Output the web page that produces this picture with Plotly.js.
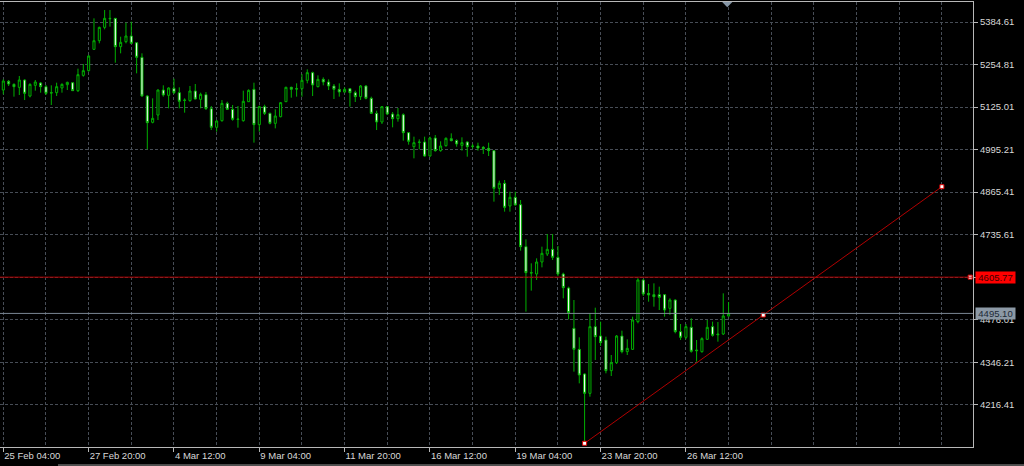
<!DOCTYPE html>
<html>
<head>
<meta charset="utf-8">
<script src="https://cdn.plot.ly/plotly-3.0.1.min.js"></script>
<style>
  html, body { margin: 0; padding: 0; background: #000; }
  #chart { width: 1024px; height: 466px; }
</style>
</head>
<body>
<div id="chart"></div>
<script>
// H4 bars, index 0 = 25 Feb 04:00
const OPEN = [5177.0,5203.5,5194.3,5185.2,5207.6,5158.7,5191.3,5198.4,5187.2,5168.9,
5168.9,5183.2,5193.3,5199.4,5175.0,5221.8,5236.1,5301.2,5327.6,5368.3,
5395.8,5395.8,5309.3,5324.6,5341.9,5321.5,5276.8,5158.7,5078.4,5100.7,
5177.0,5160.8,5182.1,5168.9,5146.5,5144.5,5174.0,5148.6,5162.8,5120.1,
5063.1,5083.4,5136.3,5118.0,5088.5,5083.4,5141.4,5179.1,5071.2,5126.2,
5105.8,5075.3,5095.6,5141.4,5185.2,5181.1,5181.1,5206.6,5230.0,5187.2,
5209.6,5201.5,5189.3,5179.1,5170.9,5181.1,5168.9,5156.7,5189.3,5151.6,
5105.8,5079.4,5126.2,5103.8,5089.5,5101.7,5046.8,5004.1,5018.3,5018.3,
4975.6,5030.5,4991.9,5007.1,5028.5,5022.4,5008.1,5018.3,5006.1,5006.1,
5002.0,4999.0,4991.9,4876.9,4892.2,4823.0,4849.4,4827.0,4698.8,4619.5,
4615.4,4652.0,4676.4,4690.7,4666.3,4615.4,4572.6,4449.5,4385.4,4310.1,
4251.1,4454.6,4426.1,4413.9,4320.3,4344.7,4426.1,4378.3,4385.4,4469.9,
4597.1,4556.4,4552.3,4552.3,4552.3,4510.6,4536.0,4439.4,4422.1,4452.6,
4383.4,4378.3,4416.0,4454.6,4432.2,4432.2,4487.2];
const HIGH = [5209.6,5207.6,5197.4,5219.8,5209.6,5197.4,5207.6,5201.5,5192.3,5191.3,
5199.4,5197.4,5202.5,5201.5,5242.2,5256.4,5283.9,5395.8,5370.4,5421.2,
5421.2,5397.0,5339.8,5382.6,5385.6,5322.5,5289.0,5161.8,5151.6,5179.1,
5191.3,5185.2,5211.6,5185.2,5151.6,5189.3,5195.4,5168.9,5170.9,5128.2,
5085.5,5146.5,5141.4,5131.3,5128.2,5175.0,5179.1,5199.4,5129.2,5132.3,
5107.9,5118.0,5140.4,5187.2,5187.2,5197.4,5225.9,5240.1,5233.0,5221.8,
5215.7,5209.6,5195.4,5197.4,5185.2,5183.2,5175.0,5192.3,5192.3,5156.7,
5114.0,5128.2,5128.2,5109.9,5122.1,5105.8,5048.8,5034.6,5026.5,5034.6,
5034.6,5039.7,5020.4,5032.6,5044.8,5026.5,5032.6,5020.4,5012.2,5016.3,
5006.1,5016.3,4993.0,4900.3,4902.3,4866.7,4866.7,4841.3,4721.2,4648.0,
4663.2,4698.8,4737.5,4737.5,4700.9,4619.5,4576.7,4536.0,4422.1,4312.2,
4495.3,4512.6,4469.9,4424.1,4368.1,4429.2,4442.4,4416.0,4485.1,4602.2,
4599.1,4584.9,4586.9,4576.7,4554.3,4541.1,4538.0,4462.8,4462.8,4480.1,
4413.9,4422.1,4475.0,4469.9,4468.9,4556.4,4529.9];
const LOW = [5163.8,5189.3,5156.7,5161.8,5146.5,5154.7,5175.0,5168.9,5161.8,5131.3,
5158.7,5168.9,5177.0,5174.0,5170.9,5217.7,5233.0,5299.1,5319.5,5362.2,
5370.4,5260.5,5289.0,5319.5,5317.5,5227.9,5156.7,4995.9,5075.3,5085.5,
5156.7,5121.1,5164.8,5121.1,5107.9,5141.4,5148.6,5121.1,5116.0,5054.9,
5049.9,5080.4,5116.0,5083.4,5062.1,5080.4,5140.4,5016.3,5049.9,5100.7,
5072.2,5060.0,5093.6,5140.4,5153.6,5156.7,5156.7,5197.4,5158.7,5185.2,
5191.3,5177.0,5149.6,5156.7,5168.9,5126.2,5140.4,5146.5,5148.6,5103.8,
5054.9,5073.3,5100.7,5063.1,5080.4,5022.4,5010.2,4968.5,4995.9,4973.5,
4973.5,4988.8,4988.8,5004.1,5020.4,5004.1,4991.9,4973.5,4998.0,4991.9,
4981.7,4975.6,4836.2,4856.5,4805.7,4805.7,4825.0,4686.6,4500.4,4564.5,
4597.1,4635.7,4670.3,4658.1,4609.3,4541.1,4477.0,4317.3,4281.6,4098.5,
4240.9,4352.9,4395.6,4312.2,4304.0,4340.7,4373.2,4368.1,4383.4,4464.8,
4548.2,4530.9,4515.7,4505.5,4485.1,4490.2,4434.3,4413.9,4416.0,4375.3,
4347.8,4375.3,4413.9,4424.1,4408.8,4429.2,4485.1];
const CLOSE = [5204.5,5195.4,5187.2,5207.6,5166.9,5194.3,5201.5,5187.2,5166.9,5168.0,
5187.2,5194.3,5200.4,5175.0,5223.9,5236.1,5280.8,5327.6,5368.3,5395.8,
5394.8,5309.3,5322.5,5341.9,5319.5,5276.8,5158.7,5077.3,5090.6,5177.0,
5161.8,5183.2,5168.9,5142.5,5145.5,5174.0,5149.6,5163.8,5120.1,5063.1,
5082.4,5136.3,5118.0,5087.5,5087.5,5142.5,5176.0,5071.2,5126.2,5105.8,
5075.3,5097.7,5138.4,5185.2,5179.1,5180.1,5206.6,5230.0,5192.3,5209.6,
5201.5,5189.3,5179.1,5170.9,5179.1,5168.9,5156.7,5189.3,5151.6,5105.8,
5079.4,5126.2,5103.8,5089.5,5101.7,5046.8,5020.4,5016.3,5017.3,4975.6,
5030.5,4991.9,5006.1,5029.5,5022.4,5012.2,5016.3,5004.1,5005.1,5000.0,
4998.0,4991.9,4876.9,4892.2,4818.9,4849.4,4826.0,4698.8,4619.5,4618.5,
4652.0,4678.5,4690.7,4666.3,4615.4,4573.7,4497.4,4385.4,4307.1,4251.1,
4454.6,4424.1,4405.8,4320.3,4344.7,4426.1,4378.3,4388.5,4475.0,4597.1,
4554.3,4551.3,4546.2,4544.1,4505.5,4536.0,4439.4,4422.1,4454.6,4379.3,
4381.4,4418.0,4452.6,4428.2,4430.2,4487.2,4495.1];

const TICK_IDX = [0,16,32,48,64,80,96,112,128];
const TICK_LABELS = ['25 Feb 04:00','27 Feb 20:00','4 Mar 12:00','9 Mar 04:00','11 Mar 20:00',
                     '16 Mar 12:00','19 Mar 04:00','23 Mar 20:00','26 Mar 12:00'];
const GRID_IDX = [8,24,40,56,72,88,104,120,136,144,152,160,168,176];
const PRICE_TICKS = [4216.41,4346.21,4476.01,4605.81,4735.61,4865.41,4995.21,5125.01,5254.81,5384.61];

const LEVEL_PRICE = 4605.77;   // red horizontal level
const LEVEL_MARK_X = [181.3];
const BID_PRICE = 4495.10;     // current price line
const TREND_X = [109, 142.5, 176];
const TREND_Y = [4098.6, 4490.2, 4881.9];

const barIdx = OPEN.map((_, i) => i);

const GRID = '#474d56';
const AXIS = '#b8b8b8';
const FONT = 'Liberation Sans, Arial, sans-serif';

const traces = [
  {
    type: 'candlestick',
    x: barIdx, open: OPEN, high: HIGH, low: LOW, close: CLOSE,
    increasing: {line: {color: '#00b000', width: 1}, fillcolor: '#000000'},
    decreasing: {line: {color: '#00b000', width: 1}, fillcolor: '#ffffff'},
    whiskerwidth: 0,
    hoverinfo: 'skip'
  },
  {
    type: 'scatter', mode: 'lines',
    x: [TREND_X[0], TREND_X[2]], y: [TREND_Y[0], TREND_Y[2]],
    line: {color: '#b00000', width: 1}, hoverinfo: 'skip'
  },
  {
    type: 'scatter', mode: 'markers',
    x: TREND_X.concat(LEVEL_MARK_X), y: TREND_Y.concat([LEVEL_PRICE]),
    marker: {symbol: 'square', size: 4, color: '#ffffff', line: {color: '#e00000', width: 1}},
    cliponaxis: false, hoverinfo: 'skip'
  }
];

const layout = {
  width: 1024, height: 466,
  paper_bgcolor: '#000000', plot_bgcolor: '#000000',
  margin: {l: 0, r: 51, t: 2, b: 19},
  showlegend: false,
  boxgap: 0.45,
  xaxis: {
    range: [-0.62, 181.83],
    tickmode: 'array', tickvals: TICK_IDX, ticktext: TICK_LABELS,
    ticklabelposition: 'outside right',
    ticks: 'outside', ticklen: 4, tickcolor: AXIS, tickwidth: 1,
    showgrid: true, gridcolor: GRID, griddash: '3px,2px', gridwidth: 1,
    minor: {tickmode: 'array', tickvals: GRID_IDX, showgrid: true, gridcolor: GRID, griddash: '3px,2px', gridwidth: 1, ticks: ''},
    showline: true, mirror: true, linecolor: AXIS, linewidth: 1,
    zeroline: false, rangeslider: {visible: false}, fixedrange: true,
    tickfont: {family: FONT, size: 9.5, color: '#d8d8d8'}
  },
  yaxis: {
    side: 'right',
    range: [4087.3, 5445.7],
    tickmode: 'array', tickvals: PRICE_TICKS, ticktext: PRICE_TICKS.map(v => v.toFixed(2)),
    ticks: 'outside', ticklen: 4, tickcolor: AXIS, tickwidth: 1,
    showgrid: true, gridcolor: GRID, griddash: '3px,2px', gridwidth: 1,
    showline: true, linecolor: AXIS, linewidth: 1, mirror: false,
    zeroline: false, fixedrange: true,
    tickfont: {family: FONT, size: 9.5, color: '#d8d8d8'}
  },
  shapes: [
    {type: 'line', xref: 'paper', x0: 0, x1: 1, yref: 'y', y0: LEVEL_PRICE, y1: LEVEL_PRICE,
     line: {color: '#b00000', width: 1}},
    {type: 'line', xref: 'paper', x0: 0, x1: 1, yref: 'y', y0: BID_PRICE, y1: BID_PRICE,
     line: {color: '#7a8794', width: 1}},
    {type: 'path', xref: 'x', yref: 'paper', path: 'M 134.8 1 L 136.7 1 L 135.75 0.988 Z',
     fillcolor: '#8595a5', line: {width: 0}},
    {type: 'line', xref: 'paper', yref: 'paper', x0: 0.0596, x1: 1.06, y0: -0.0405, y1: -0.0405,
     line: {color: '#9a9a9a', width: 1}}
  ],
  annotations: [
    {xref: 'paper', x: 1, xanchor: 'left', xshift: 2, yref: 'y', y: LEVEL_PRICE, yanchor: 'middle',
     text: LEVEL_PRICE.toFixed(2), showarrow: false, bgcolor: '#ff0000', borderpad: 0,
     width: 39, height: 11, font: {family: FONT, size: 9.5, color: '#3a0000'}},
    {xref: 'paper', x: 1, xanchor: 'left', xshift: 2, yref: 'y', y: BID_PRICE, yanchor: 'middle',
     text: BID_PRICE.toFixed(2), showarrow: false, bgcolor: '#8c99a6', borderpad: 0,
     width: 39, height: 11, font: {family: FONT, size: 9.5, color: '#1e2a36'}}
  ]
};

Plotly.newPlot('chart', traces, layout, {staticPlot: true, displayModeBar: false});
</script>
</body>
</html>
